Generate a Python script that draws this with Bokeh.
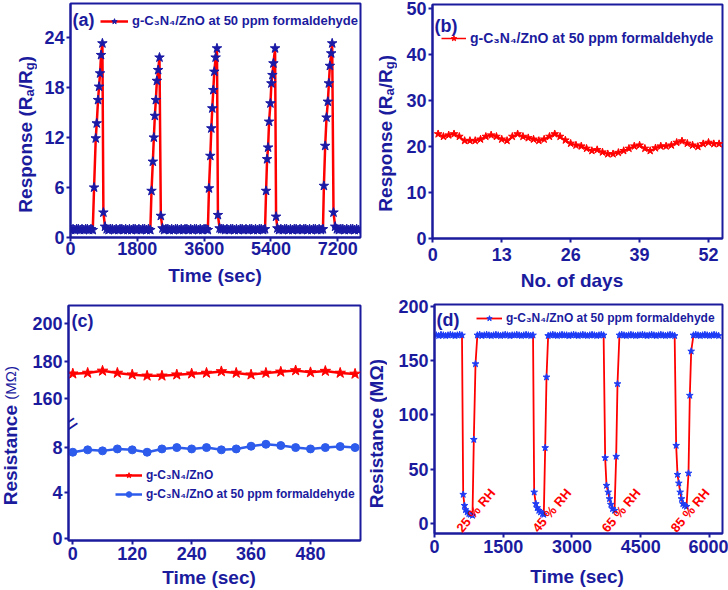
import numpy as np
from math import pi
from bokeh.plotting import figure
from bokeh.layouts import row, column
from bokeh.models import (Range1d, FixedTicker, Label, Legend, LegendItem,
                          CustomJSTickFormatter, Div)
from bokeh.embed import file_html
from bokeh.resources import INLINE

# ---------------- data ----------------
# (a) response vs time, 5 cycles at 50 ppm formaldehyde
a_base1 = [0.9, 1.0, 0.9, 1.0, 1.0, 0.9, 1.0, 0.9, 1.0, 1.0, 0.9, 1.0, 0.9]
a_base2 = [1.0, 0.9, 1.0, 1.0, 0.9, 1.0, 0.9, 1.0, 1.0, 0.9, 1.0, 0.9,
           1.0, 0.9, 1.0, 1.0, 0.9, 1.0, 0.9, 1.0, 1.0, 0.9, 1.0, 0.9]
a_base3 = [0.9, 1.0, 1.0, 0.9, 1.0, 0.9, 1.0, 1.0, 0.9, 1.0, 0.9, 1.0,
           1.0, 0.9, 1.0, 0.9, 1.0, 1.0, 0.9, 1.0, 0.9, 1.0, 1.0, 0.9]
a_base4 = [1.0, 1.0, 0.9, 1.0, 0.9, 1.0, 1.0, 0.9, 1.0, 0.9, 1.0, 1.0,
           0.9, 1.0, 0.9, 1.0, 1.0, 0.9, 1.0, 0.9, 1.0, 1.0, 0.9, 1.0]
a_base5 = [0.9, 1.0, 0.9, 1.0, 1.0, 0.9, 1.0, 0.9, 1.0, 1.0, 0.9, 1.0,
           0.9, 1.0, 1.0, 0.9, 1.0, 0.9, 1.0, 1.0, 0.9, 1.0, 0.9, 1.0]
a_base6 = [1.0, 0.9, 1.0, 1.0, 0.9, 1.0, 0.9, 1.0, 1.0, 0.9, 1.0, 0.9]
a_base_spans = [(20, 600), (975, 2150), (2520, 3700), (4060, 5240), (5615, 6800), (7175, 7760)]

a_peak_t = [
    [635, 680, 707, 742, 769, 796, 823, 859, 886, 930],
    [2182, 2218, 2245, 2272, 2299, 2326, 2361, 2397, 2433, 2478],
    [3730, 3766, 3793, 3819, 3846, 3873, 3909, 3945, 3971, 4016],
    [5268, 5295, 5322, 5349, 5385, 5411, 5438, 5465, 5510, 5537, 5572],
    [6825, 6860, 6896, 6932, 6959, 6986, 7022, 7048, 7084, 7129],
]
a_peak_v = [
    [6.0, 11.9, 13.7, 16.5, 18.1, 19.7, 21.9, 23.3, 3.0, 1.3],
    [5.6, 9.1, 12.0, 14.6, 16.5, 18.8, 20.1, 21.6, 2.6, 1.1],
    [5.9, 9.8, 13.1, 15.5, 17.7, 19.9, 21.6, 22.7, 2.7, 1.1],
    [5.6, 9.4, 10.8, 13.9, 16.1, 18.5, 19.5, 20.9, 22.7, 2.5, 1.1],
    [6.2, 11.0, 14.4, 16.3, 18.5, 20.6, 22.1, 23.3, 3.0, 1.3],
]

# (b) stability over days
b_days = list(range(1, 55))
b_resp = [22.75, 22.2, 22.5, 22.75, 22.2, 21.3, 21.3, 21.3, 21.6, 22.2,
          22.5, 22.2, 21.6, 21.3, 22.2, 22.75, 22.2, 21.9, 21.6, 21.3,
          21.6, 22.2, 22.75, 22.2, 21.4, 20.7, 20.3, 20.1, 19.6, 19.1,
          19.3, 18.8, 18.4, 18.4, 18.7, 19.1, 19.6, 20.1, 20.3, 19.6,
          19.1, 19.7, 20.1, 20.1, 20.3, 20.9, 21.2, 20.7, 20.3, 20.0,
          20.6, 20.9, 20.6, 20.6]

# (c) resistance in air and in 50 ppm formaldehyde
c_time = [0, 30, 60, 90, 120, 150, 180, 210, 240, 270, 300, 330, 360, 390,
          420, 450, 480, 510, 540, 570]
c_air = [173.3, 173.7, 174.8, 173.7, 172.8, 172.2, 172.2, 172.8, 173.3, 173.7,
         174.5, 173.7, 172.8, 173.7, 174.3, 175.0, 174.0, 174.7, 173.7, 173.2]
c_gas = [7.56, 7.77, 7.68, 7.85, 7.77, 7.56, 7.85, 7.97, 7.85, 7.97,
         7.77, 7.85, 8.09, 8.26, 8.15, 7.97, 7.85, 7.97, 8.06, 7.97]

# (d) resistance under different humidity
d_base1 = [173.5, 173.0, 174.0, 173.5, 173.0, 173.5, 174.0, 173.5, 173.0, 173.5, 174.0, 173.5]
d_base2 = [173.5, 174.0, 173.0, 173.5, 174.0, 173.5, 173.0, 173.5, 174.0, 173.5, 173.0, 173.5,
           174.0, 173.5, 173.0, 173.5, 173.5, 174.0, 173.5, 173.0, 173.5, 174.0, 173.5, 173.0, 173.5]
d_base3 = [173.0, 173.5, 174.0, 173.5, 173.0, 173.5, 174.0, 173.5, 173.5, 173.0, 173.5, 174.0,
           173.5, 173.0, 173.5, 174.0, 173.5, 173.0, 173.5, 174.0, 173.5, 173.0, 173.5, 174.0, 173.5]
d_base4 = [173.5, 174.0, 173.5, 173.0, 173.5, 174.0, 173.5, 173.0, 173.5, 173.5, 174.0, 173.5,
           173.0, 173.5, 174.0, 173.5, 173.0, 173.5, 174.0, 173.5, 173.0, 173.5, 174.0, 173.5, 173.0]
d_base5 = [173.5, 174.0, 173.5, 173.0, 173.5, 174.0, 173.5, 173.0, 173.5, 174.0, 173.5, 173.0]
d_base_spans = [(40, 600), (935, 2150), (2480, 3690), (4035, 5240), (5650, 6200)]

d_dip_t = [
    [626, 655, 676, 713, 749, 785, 829, 858, 895],
    [2175, 2211, 2241, 2276, 2313, 2357, 2385, 2415, 2444],
    [3724, 3753, 3790, 3818, 3847, 3884, 3928, 3964, 3993],
    [5273, 5302, 5331, 5360, 5389, 5418, 5455, 5499, 5542, 5571, 5601],
]
d_dip_v = [
    [26.5, 16.3, 12.3, 10.2, 8.7, 8.0, 7.1, 77.2, 147.0],
    [28.6, 17.9, 14.2, 11.7, 10.2, 8.7, 8.0, 69.6, 134.8],
    [60.3, 34.8, 28.6, 22.5, 17.3, 13.3, 11.7, 61.6, 128.6],
    [71.7, 44.9, 36.9, 28.6, 22.5, 17.9, 16.3, 15.4, 46.1, 117.9, 158.7],
]
d_rh_labels = ["25 % RH", "45 % RH", "65 % RH", "85 % RH"]
d_rh_t = [660, 2318, 3830, 5336]

# ---------------- styles ----------------
FONT = "Liberation Sans"
AX = "#1B1B9E"
RED = "#FF0000"
NAVY = "#1A1AA6"
BLUE_C = "#2D5BEB"
BLUE_D = "#1E3CF5"
LEG = "g-C\u2083N\u2084/ZnO at 50 ppm formaldehyde"
H = 295


def ytitle_div(width, left, bottom, inner_html):
    html = (f'<div style="position:relative;width:{width}px;height:{H}px;">'
            f'<div style="position:absolute;left:{left}px;bottom:{bottom}px;'
            f'writing-mode:vertical-rl;transform:rotate(180deg);'
            f"font-family:'{FONT}';font-weight:bold;font-size:19px;line-height:1;"
            f'color:{AX};white-space:nowrap;">{inner_html}</div></div>')
    return Div(text=html, width=width, height=H, margin=(0, 0, 0, 0))


def xtitle_div(width, height, cx, top, text):
    html = (f'<div style="position:relative;width:{width}px;height:{height}px;">'
            f'<div style="position:absolute;left:{cx}px;top:{top}px;transform:translateX(-50%);'
            f"font-family:'{FONT}';font-weight:bold;font-size:19px;line-height:1;"
            f'color:{AX};white-space:nowrap;">{text}</div></div>')
    return Div(text=html, width=width, height=height, margin=(0, 0, 0, 0))


def sub(s):
    return (f'<span style="font-size:13px;line-height:0;vertical-align:-4px;">{s}</span>')


RESPONSE_HTML = f"Response (R{sub('a')}/R{sub('g')})"


def tag(p, text, x, y):
    p.add_layout(Label(x=x, y=y, x_units="screen", y_units="screen", text=text,
                       text_align="left", text_baseline="middle", text_font=FONT,
                       text_font_size="18px", text_font_style="bold", text_color=AX))


def make_fig(width, height, xr, yr, left, right, top, bottom, xticks, yticks, xstand):
    p = figure(width=width, height=height, x_range=Range1d(*xr), y_range=Range1d(*yr),
               output_backend="svg", toolbar_location=None, title=None,
               min_border_left=left, min_border_right=right,
               min_border_top=top, min_border_bottom=bottom,
               background_fill_color="white", border_fill_color="white")
    p.xgrid.grid_line_color = None
    p.ygrid.grid_line_color = None
    p.outline_line_color = AX
    p.outline_line_width = 2
    p.outline_line_alpha = 1
    for ax in (p.xaxis[0], p.yaxis[0]):
        ax.axis_line_color = AX
        ax.axis_line_width = 2
        ax.major_tick_line_color = AX
        ax.major_tick_line_width = 2
        ax.major_tick_in = 0
        ax.major_tick_out = 4
        ax.minor_tick_line_color = None
        ax.major_label_text_font = FONT
        ax.major_label_text_font_style = "bold"
        ax.major_label_text_font_size = "18px"
        ax.major_label_text_color = AX
        ax.major_label_standoff = 2
    xa = p.xaxis[0]
    xa.ticker = FixedTicker(ticks=xticks)
    xa.major_label_standoff = xstand
    if yticks is not None:
        p.yaxis[0].ticker = FixedTicker(ticks=yticks)
    return p


def legend(p, items, x, y, size, gw):
    lg = Legend(items=items, location=(x, y), padding=0, margin=0, spacing=5,
                label_text_font=FONT, label_text_font_style="bold",
                label_text_font_size=f"{size}px", label_text_color=AX,
                glyph_width=gw, glyph_height=14, label_height=14, label_standoff=4,
                background_fill_alpha=0, border_line_alpha=0)
    p.add_layout(lg)


# ---------------- panel (a) ----------------
a_bases = [a_base1, a_base2, a_base3, a_base4, a_base5, a_base6]
a_t, a_v = [], []
for i, (span, vals) in enumerate(zip(a_base_spans, a_bases)):
    a_t += list(np.linspace(span[0], span[1], len(vals)))
    a_v += vals
    if i < len(a_peak_t):
        a_t += a_peak_t[i]
        a_v += a_peak_v[i]

div_a = ytitle_div(38, 15.6, 82, RESPONSE_HTML)
pa = make_fig(326, 265, (0, 7811), (0, 28.08), 32, 4, 3, 28,
              [0, 1800, 3600, 5400, 7200], [0, 6, 12, 18, 24], 0)
la = pa.line(a_t, a_v, line_color=RED, line_width=2.5)
sa = pa.scatter(a_t, a_v, marker="star", size=10, fill_color=NAVY, line_color=NAVY)
legend(pa, [LegendItem(label=LEG, renderers=[la, sa])], 30, 209, 13, 28)
tag(pa, "(a)", 2, 218)
xdiv_a = xtitle_div(326, 30, 177, 0.7, "Time (sec)")

# ---------------- panel (b) ----------------
div_b = ytitle_div(36, 12.2, 83, RESPONSE_HTML)
pb = make_fig(328, 271, (-0.06, 54.64), (0, 50.93), 32, 6, 4, 33,
              [0, 13, 26, 39, 52], [0, 10, 20, 30, 40, 50], 5)
lb = pb.line(b_days, b_resp, line_color=RED, line_width=1.5)
sb = pb.scatter(b_days, b_resp, marker="star", size=8, fill_color=RED, line_color=RED)
legend(pb, [LegendItem(label=LEG, renderers=[lb, sb])], 9, 192, 14, 25)
tag(pb, "(b)", 2, 213)
xdiv_b = xtitle_div(328, 24, 172, -0.3, "No. of days")

# ---------------- panel (c) ----------------
C_LOW_PX = 11.375      # pixels per unit below the break
C_UP_PX = 1.89         # pixels per unit above the break
C_UP_BASE_VAL = 160.0
C_UP_BASE_POS = 12.255


def c_y(v):
    return v if v < 50 else C_UP_BASE_POS + (v - C_UP_BASE_VAL) * C_UP_PX / C_LOW_PX


c_ticks_raw = [0, 4, 8, 160, 180, 200]
c_ticks = [c_y(v) for v in c_ticks_raw]
div_c = ytitle_div(22, 0.6, 85,
                   'Resistance <span style="font-size:15px;font-weight:normal;">(M\u03a9)</span>')
pc = make_fig(342, 275, (-8.7, 581), (-0.2, 20.46), 46, 4, 10, 30,
              [0, 120, 240, 360, 480], c_ticks, 2)
pc.yaxis[0].formatter = CustomJSTickFormatter(
    args=dict(tpos=c_ticks, tlab=[str(v) for v in c_ticks_raw]),
    code="for (let i = 0; i < tpos.length; i++) { if (Math.abs(tpos[i] - tick) < 1e-6) return tlab[i]; } return '';")
c_air_y = [c_y(v) for v in c_air]
lc1 = pc.line(c_time, c_air_y, line_color=RED, line_width=2.5)
sc1 = pc.scatter(c_time, c_air_y, marker="star", size=11, fill_color=RED, line_color=RED)
lc2 = pc.line(c_time, c_gas, line_color=BLUE_C, line_width=2.5)
sc2 = pc.scatter(c_time, c_gas, marker="circle", size=8, fill_color=BLUE_C, line_color=BLUE_C)
legend(pc, [LegendItem(label="g-C\u2083N\u2084/ZnO", renderers=[lc1, sc1]),
            LegendItem(label=LEG, renderers=[lc2, sc2])], 47, 39, 12, 27)
tag(pc, "(c)", 3, 220)
pc.add_layout(Label(x=2, y=117, x_units="screen", y_units="screen", text="=",
                    angle=0.6, text_align="center", text_baseline="middle",
                    text_font=FONT, text_font_size="24px", text_color=AX))
xdiv_c = xtitle_div(342, 20, 187, -1.8, "Time (sec)")

# ---------------- panel (d) ----------------
d_bases = [d_base1, d_base2, d_base3, d_base4, d_base5]
d_t, d_v = [], []
for i, (span, vals) in enumerate(zip(d_base_spans, d_bases)):
    d_t += list(np.linspace(span[0], span[1], len(vals)))
    d_v += vals
    if i < len(d_dip_t):
        d_t += d_dip_t[i]
        d_v += d_dip_v[i]

div_d = ytitle_div(24, 3.2, 82, "Resistance (M\u03a9)")
pd_ = make_fig(340, 268, (0, 6284), (-9.5, 201.85), 46, 6, 9, 30,
               [0, 1500, 3000, 4500, 6000], [0, 50, 100, 150, 200], 2)
ld = pd_.line(d_t, d_v, line_color=RED, line_width=1.8)
sd = pd_.scatter(d_t, d_v, marker="star", size=7, fill_color=BLUE_D, line_color=BLUE_D)
legend(pd_, [LegendItem(label=LEG, renderers=[ld, sd])], 42, 208, 12, 26)
tag(pd_, "(d)", 2, 214)
for txt, t in zip(d_rh_labels, d_rh_t):
    pd_.add_layout(Label(x=t, y=-11, text=txt, angle=0.87, text_align="left",
                         text_baseline="bottom", text_font=FONT, text_font_size="13px",
                         text_font_style="bold", text_color=RED))
xdiv_d = xtitle_div(340, 27, 189, 4.2, "Time (sec)")

layout = column(
    row(div_a, column(pa, xdiv_a), div_b, column(pb, xdiv_b)),
    row(div_c, column(pc, xdiv_c), div_d, column(pd_, xdiv_d)),
)
open("out.html", "w").write(file_html(layout, INLINE))
